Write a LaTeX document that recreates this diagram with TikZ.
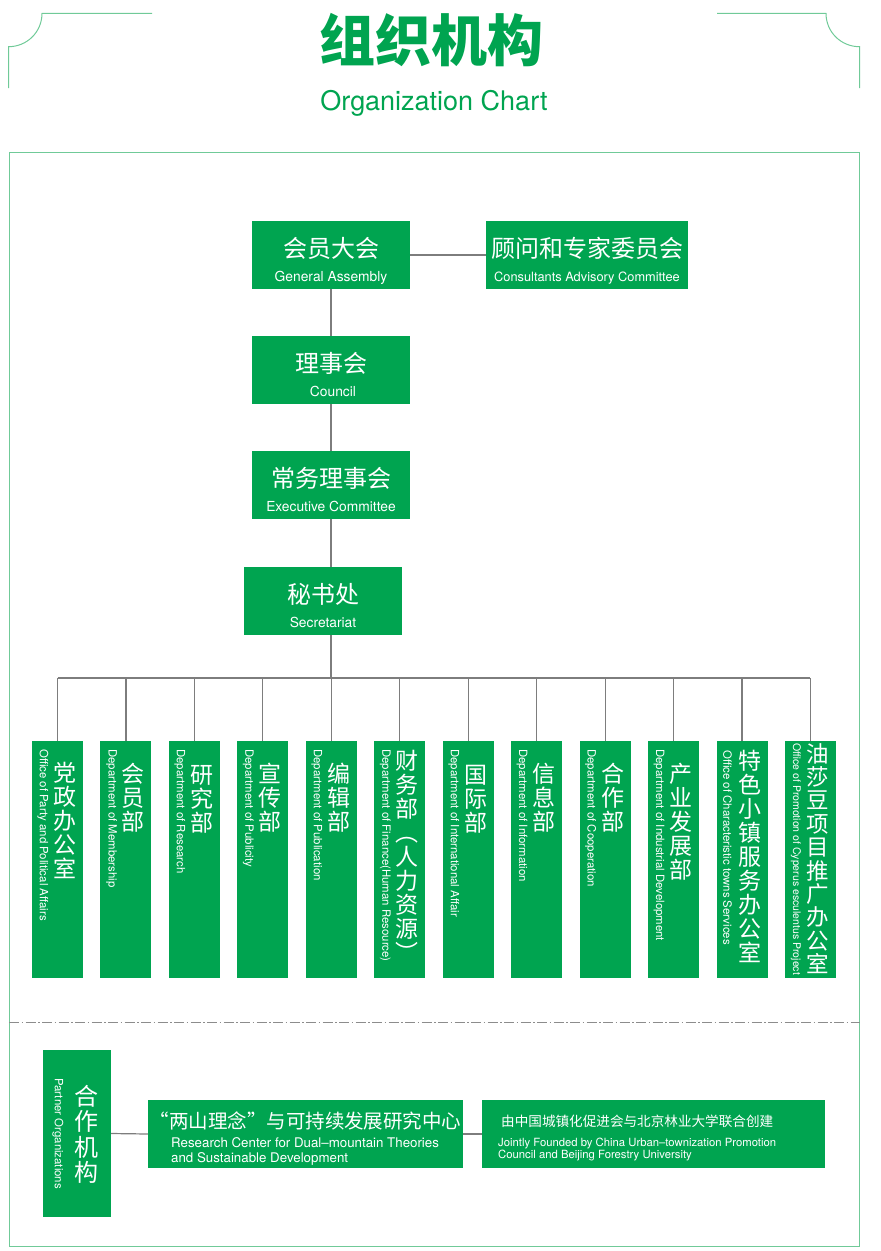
\documentclass[tikz,border=0pt]{standalone}
\usepackage{fontspec}
\setmainfont{TeX Gyre Heros}
\newfontfamily\zh{Noto Sans CJK SC}
\usetikzlibrary{calc}
\definecolor{og}{RGB}{0,164,80}
\definecolor{fr}{RGB}{112,202,152}
\definecolor{cn}{RGB}{125,125,125}
\definecolor{dsh}{RGB}{140,140,140}
\begin{document}
\begin{tikzpicture}[x=1pt,y=-1pt,
  gbox/.style={fill=og, inner sep=0pt, outer sep=0pt, minimum height=68pt},
  dbox/.style={fill=og, inner sep=0pt, outer sep=0pt, minimum width=51pt, minimum height=237pt, anchor=north},
  zt/.style={text=white, inner sep=0pt, font=\zh\fontsize{24}{24}\selectfont},
  et/.style={text=white, inner sep=0pt, anchor=base, font=\fontsize{13.8}{14}\selectfont},
  vz/.style={text=white, inner sep=0pt, anchor=north, align=center, font=\zh\fontsize{23}{24}\selectfont},
  ve/.style={text=white, inner sep=0pt, anchor=west, rotate=-90, font=\fontsize{11.4}{12}\selectfont},
  conn/.style={draw=cn, line width=1.2pt},
  frm/.style={draw=fr, line width=1pt}
]
\useasboundingbox (0,0) rectangle (881,1251);

% header decoration
\draw[frm] (152,13.3) -- (42,13.3) .. controls (42,32) and (27,46.7) .. (8.5,46.7) -- (8.5,88);
\draw[frm] (717,13.3) -- (826,13.3) .. controls (826,32) and (841,46.7) .. (859.5,46.7) -- (859.5,88);

% title
\node[text=og, inner sep=0pt, font=\zh\bfseries\fontsize{56}{56}\selectfont] (title) at (431,40) {组织机构};
\node[text=og, inner sep=0pt, anchor=base, font=\fontsize{27}{27}\selectfont] (subtitle) at (434,110) {Organization Chart};

% frame and separator
\draw[frm] (9,152) rectangle (859.5,1246);
\draw[draw=dsh, line width=1pt, dash pattern=on 10pt off 2.5pt on 1.5pt off 2.5pt] (9,1022.7) -- (859.5,1022.7);

% top boxes
\node[gbox, minimum width=158pt] (ga) at (331,255) {};
\node[gbox, minimum width=202pt] (ca) at (587,255) {};
\node[gbox, minimum width=158pt] (co) at (331,370) {};
\node[gbox, minimum width=158pt] (ex) at (331,485) {};
\node[gbox, minimum width=158pt] (se) at (323,601) {};

\node[zt] (gaz) at ($(ga.north)+(0,27)$) {会员大会};
\node[et] (gae) at ($(ga.north)+(0,60.5)$) {General Assembly};
\node[zt] (caz) at ($(ca.north)+(0,27)$) {顾问和专家委员会};
\node[et, font=\fontsize{12.8}{13}\selectfont] (cae) at ($(ca.north)+(0,60.5)$) {Consultants Advisory Committee};
\node[zt] (coz) at ($(co.north)+(0,27)$) {理事会};
\node[et] (coe) at ($(co.north)+(2,60.5)$) {Council};
\node[zt] (exz) at ($(ex.north)+(0,27)$) {常务理事会};
\node[et] (exe) at ($(ex.north)+(0,60.5)$) {Executive Committee};
\node[zt] (sez) at ($(se.north)+(0,27)$) {秘书处};
\node[et] (see) at ($(se.north)+(0,60.5)$) {Secretariat};

\draw[conn] (ga.east) -- (ca.west);
\draw[conn] (ga.south) -- (co.north);
\draw[conn] (co.south) -- (ex.north);
\draw[conn] (ex.south) -- (ex.south |- se.north);
\coordinate (bus) at (331,678);
\draw[conn] (ex.south |- se.south) -- (bus);

% departments
\node[dbox] (d1) at (57.5,741) {};
\node[dbox] (d2) at (125.95,741) {};
\node[dbox] (d3) at (194.4,741) {};
\node[dbox] (d4) at (262.85,741) {};
\node[dbox] (d5) at (331.3,741) {};
\node[dbox] (d6) at (399.75,741) {};
\node[dbox] (d7) at (468.2,741) {};
\node[dbox] (d8) at (536.65,741) {};
\node[dbox] (d9) at (605.1,741) {};
\node[dbox] (d10) at (673.55,741) {};
\node[dbox] (d11) at (742,741) {};
\node[dbox] (d12) at (810.45,741) {};

\draw[conn] (d1.north |- bus) -- (d12.north |- bus);
\foreach \k in {1,...,12} \draw[conn] (d\k.north) -- (d\k.north |- bus);

\node[ve] (e1) at ($(d1.north)+(-14.5,8)$) {Office of Party and Political Affairs};
\node[vz] (z1) at ($(d1.north)+(7.5,21)$) {党\\政\\办\\公\\室};
\node[ve] (e2) at ($(d2.north)+(-14.5,8)$) {Department of Membership};
\node[vz] (z2) at ($(d2.north)+(7.5,22)$) {会\\员\\部};
\node[ve] (e3) at ($(d3.north)+(-14.5,8)$) {Department of Research};
\node[vz] (z3) at ($(d3.north)+(7.5,24)$) {研\\究\\部};
\node[ve] (e4) at ($(d4.north)+(-14.5,8)$) {Department of Publicity};
\node[vz] (z4) at ($(d4.north)+(7.5,22)$) {宣\\传\\部};
\node[ve] (e5) at ($(d5.north)+(-14.5,8)$) {Department of Publication};
\node[vz] (z5) at ($(d5.north)+(7.5,22)$) {编\\辑\\部};
\node[ve] (e6) at ($(d6.north)+(-14.5,8)$) {Department of Finance(Human Resource)};
\node[vz] (z6) at ($(d6.north)+(7.5,9)$) {财\\务\\部\\︵\\人\\力\\资\\源\\︶};
\node[ve] (e7) at ($(d7.north)+(-14.5,8)$) {Department of International Affair};
\node[vz] (z7) at ($(d7.north)+(7.5,24)$) {国\\际\\部};
\node[ve] (e8) at ($(d8.north)+(-14.5,8)$) {Department of Information};
\node[vz] (z8) at ($(d8.north)+(7.5,22)$) {信\\息\\部};
\node[ve] (e9) at ($(d9.north)+(-14.5,8)$) {Department of Cooperation};
\node[vz] (z9) at ($(d9.north)+(7.5,22)$) {合\\作\\部};
\node[ve] (e10) at ($(d10.north)+(-14.5,8)$) {Department of Industrial Development};
\node[vz] (z10) at ($(d10.north)+(7.5,22)$) {产\\业\\发\\展\\部};
\node[ve] (e11) at ($(d11.north)+(-14.5,9)$) {Office of Characteristic towns Services};
\node[vz] (z11) at ($(d11.north)+(7.5,9)$) {特\\色\\小\\镇\\服\\务\\办\\公\\室};
\node[ve, font=\fontsize{10.5}{11}\selectfont] (e12) at ($(d12.north)+(-14.5,2)$) {Office of Promotion of Cyperus esculentus Project};
\node[vz, font=\zh\fontsize{22.5}{23.4}\selectfont] (z12) at ($(d12.north)+(7.5,2)$) {油\\莎\\豆\\项\\目\\推\\广\\办\\公\\室};

% partners
\node[fill=og, inner sep=0pt, outer sep=0pt, minimum width=68pt, minimum height=167pt] (po) at (77,1133.5) {};
\node[ve] (poe) at (58,1078) {Partner Organizations};
\node[vz, font=\zh\fontsize{24}{25.5}\selectfont] (poz) at (86,1085) {合\\作\\机\\构};
\node[gbox, minimum width=315pt] (rc) at (305.5,1134) {};
\node[text=white, inner sep=0pt, font=\zh\fontsize{19.5}{20}\selectfont] (rcz) at (305.5,1121) {“两山理念”与可持续发展研究中心};
\node[et, anchor=base west, font=\fontsize{13.3}{14}\selectfont] (rce1) at (171,1147.7) {Research Center for Dual–mountain Theories};
\node[et, anchor=base west, font=\fontsize{13.3}{14}\selectfont] (rce2) at (171,1162.3) {and Sustainable Development};
\node[gbox, minimum width=343pt] (jf) at (653.5,1134) {};
\node[text=white, inner sep=0pt, anchor=west, font=\zh\fontsize{13.6}{14}\selectfont] (jfz) at (501,1121) {由中国城镇化促进会与北京林业大学联合创建};
\node[et, anchor=base west, font=\fontsize{11.3}{12}\selectfont] (jfe1) at (498,1146) {Jointly Founded by China Urban–townization Promotion};
\node[et, anchor=base west, font=\fontsize{11.3}{12}\selectfont] (jfe2) at (498,1158.3) {Council and Beijing Forestry University};
\draw[conn] (po.east) -- (rc.west);
\draw[conn] (rc.east) -- (jf.west);
\end{tikzpicture}
\end{document}
